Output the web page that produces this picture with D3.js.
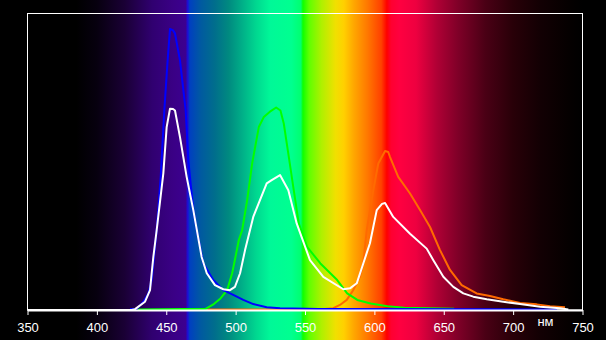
<!DOCTYPE html>
<html>
<head>
<meta charset="utf-8">
<script src="https://cdn.jsdelivr.net/npm/d3@7"></script>
<style>
  html, body { margin: 0; padding: 0; background: #000; }
  svg { display: block; }
</style>
</head>
<body>
<div id="chart"></div>
<script>
// x axis ticks (nm)
const tickValues = [350, 400, 450, 500, 550, 600, 650, 700, 750];
const unitLabel = 'нм';

// background spectrum: wavelength -> colour
const spectrumNm = [350, 385, 400, 420, 440, 455, 464, 465.5, 467, 475, 485, 495, 505, 515, 525, 540, 547, 548.5, 553, 562, 572, 578, 585, 595, 605, 609, 612, 618, 630, 645, 660, 680, 700, 720, 740, 750];
const spectrumColor = ['#000000', '#000000', '#07000f', '#1a0035', '#300070', '#3a0085', '#3c0090', '#1a10d8', '#0040c0', '#005aa0', '#006e8c', '#008a80', '#00b088', '#00d890', '#00f898', '#00ff90', '#00ff70', '#10ff00', '#60ff00', '#b0f000', '#f0e000', '#ffd000', '#ffa800', '#ff7800', '#ff4000', '#ff0000', '#ff0030', '#ff0040', '#ee0040', '#b00035', '#800028', '#4a0015', '#280008', '#120003', '#050000', '#000000'];

// orange (red channel)
const orangeNm = [479.7, 560, 570.4, 575.2, 580.1, 584.8, 589.6, 592.0, 594.5, 599.2, 602.8, 607.7, 610.0, 611.3, 617.2, 625.7, 632.9, 640.1, 647.3, 654.5, 662.9, 673.7, 683.3, 692.9, 705.0, 717.0, 726.6, 737.4];
const orangeVal = [0.002, 0.002, 0.006, 0.017, 0.034, 0.067, 0.112, 0.157, 0.269, 0.404, 0.494, 0.536, 0.533, 0.516, 0.449, 0.393, 0.337, 0.280, 0.202, 0.135, 0.084, 0.056, 0.047, 0.036, 0.024, 0.019, 0.013, 0.009];

// green channel
const greenNm = [428.7, 478.3, 484.3, 489.1, 493.9, 497.5, 499.9, 502.3, 504.7, 508.3, 511.9, 516.7, 520.3, 524.5, 529.2, 532.3, 534.7, 538.3, 541.9, 545.5, 551.5, 561.1, 573.2, 580.4, 587.7, 597.3, 609.4, 621.4, 657.5];
const greenVal = [0.002, 0.004, 0.020, 0.039, 0.067, 0.124, 0.179, 0.236, 0.269, 0.370, 0.494, 0.617, 0.651, 0.668, 0.683, 0.673, 0.629, 0.517, 0.404, 0.292, 0.213, 0.157, 0.101, 0.056, 0.034, 0.022, 0.013, 0.008, 0.004];

// blue channel
const blueNm = [423.9, 428.7, 433.5, 437.1, 439.5, 441.9, 443.1, 446.0, 448.6, 451.0, 452.7, 454.9, 456.3, 459.9, 464.0, 465.9, 469.5, 472.0, 476.7, 483.9, 491.1, 498.3, 505.5, 512.7, 522.4, 532.0, 560, 731.6];
const blueVal = [0.003, 0.003, 0.028, 0.056, 0.101, 0.213, 0.269, 0.449, 0.673, 0.842, 0.948, 0.943, 0.933, 0.842, 0.673, 0.505, 0.337, 0.269, 0.157, 0.101, 0.067, 0.051, 0.034, 0.020, 0.009, 0.006, 0.003, 0.002];

// white (sum)
const whiteNm = [350, 425, 427.5, 434.7, 438.3, 439.5, 440.7, 443.1, 447.9, 450.3, 452.7, 454.9, 456.3, 459.9, 464.7, 469.5, 475.5, 479.2, 485.1, 491.1, 495.9, 499.5, 503.2, 506.8, 512.7, 522.4, 526.0, 532.0, 538.0, 544.0, 553.6, 563.2, 577.6, 582.4, 587.3, 592.0, 596.8, 601.7, 605.5, 607.7, 613.6, 625.7, 637.7, 642.5, 649.7, 656.9, 664.1, 671.3, 681.0, 692.9, 705.0, 719.4, 733.8, 739.8];
const whiteVal = [0, 0, 0.003, 0.028, 0.067, 0.124, 0.179, 0.269, 0.461, 0.617, 0.679, 0.678, 0.673, 0.583, 0.449, 0.337, 0.179, 0.124, 0.084, 0.070, 0.067, 0.078, 0.124, 0.202, 0.314, 0.427, 0.438, 0.455, 0.404, 0.292, 0.168, 0.112, 0.070, 0.073, 0.090, 0.157, 0.225, 0.337, 0.358, 0.361, 0.314, 0.257, 0.207, 0.168, 0.112, 0.078, 0.056, 0.045, 0.036, 0.028, 0.020, 0.011, 0.006, 0.002];

const W = 606, H = 340;
const margin = {top: 13.5, right: 23.5, bottom: 30, left: 27.5};
const width = W - margin.left - margin.right;
const height = H - margin.top - margin.bottom;

const x = d3.scaleLinear().domain([350, 750]).range([margin.left, margin.left + width]);
const y = d3.scaleLinear().domain([0, 1]).range([margin.top + height, margin.top]);

const svg = d3.select('#chart').append('svg')
  .attr('width', W)
  .attr('height', H);

// spectrum background
const grad = svg.append('defs').append('linearGradient')
  .attr('id', 'spectrum')
  .attr('gradientUnits', 'userSpaceOnUse')
  .attr('x1', x(350)).attr('x2', x(750))
  .attr('y1', 0).attr('y2', 0);

grad.selectAll('stop')
  .data(spectrumNm)
  .enter().append('stop')
  .attr('offset', d => (d - 350) / 400)
  .attr('stop-color', (d, i) => spectrumColor[i]);

svg.append('rect')
  .attr('x', 0).attr('y', 0)
  .attr('width', W).attr('height', H)
  .attr('fill', 'url(#spectrum)');

// frame
svg.append('rect')
  .attr('x', x(350)).attr('y', y(1))
  .attr('width', x(750) - x(350)).attr('height', y(0) - y(1))
  .attr('fill', 'none')
  .attr('stroke', '#fff')
  .attr('stroke-width', 1);

// curves
const line = d3.line()
  .x(d => x(d[0]))
  .y(d => y(d[1]));

const series = [
  {nm: orangeNm, val: orangeVal, color: '#ff6a00'},
  {nm: greenNm, val: greenVal, color: '#00ff00'},
  {nm: blueNm, val: blueVal, color: '#0000ff'},
  {nm: whiteNm, val: whiteVal, color: '#ffffff'}
];

svg.append('g')
  .selectAll('path')
  .data(series)
  .enter().append('path')
  .attr('d', s => line(s.nm.map((n, i) => [n, s.val[i]])))
  .attr('fill', 'none')
  .attr('stroke', s => s.color)
  .attr('stroke-width', 2)
  .attr('stroke-linejoin', 'round');

// x axis
const xAxis = d3.axisBottom(x)
  .tickValues(tickValues)
  .tickSizeInner(5)
  .tickSizeOuter(0)
  .tickPadding(8)
  .tickFormat(d3.format('d'));

function xAxisTransform(g) {
  g.call(xAxis);
  g.select('.domain').attr('stroke', '#fff').attr('stroke-width', 2);
  g.selectAll('.tick line').attr('stroke', '#fff');
  g.selectAll('.tick text')
    .attr('fill', '#fff')
    .style('font-family', '"Liberation Sans", Arial, sans-serif')
    .style('font-size', '13px');
}

svg.append('g')
  .attr('transform', 'translate(0,' + y(0) + ')')
  .call(xAxisTransform);

svg.append('text')
  .attr('x', 545.5)
  .attr('y', 326)
  .attr('text-anchor', 'middle')
  .attr('fill', '#fff')
  .style('font-family', '"Liberation Sans", Arial, sans-serif')
  .style('font-size', '13px')
  .text(unitLabel);
</script>
</body>
</html>
